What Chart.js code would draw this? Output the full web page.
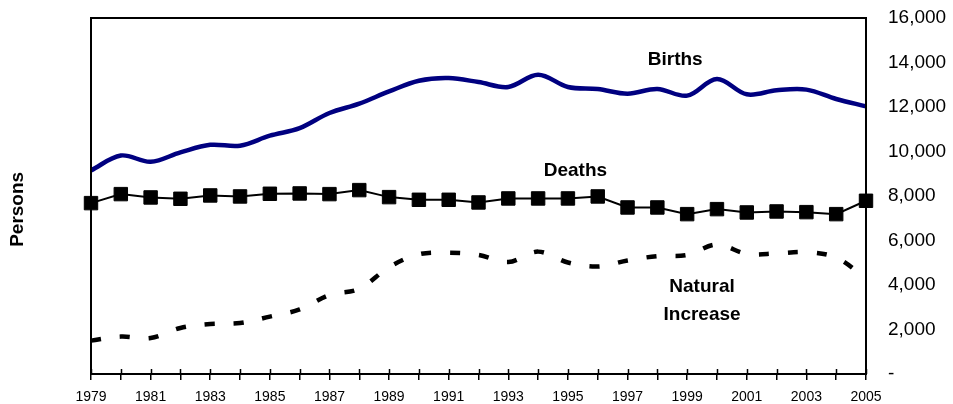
<!DOCTYPE html>
<html lang="en">
  <head>
    <meta charset="UTF-8" />
    <title>Births, Deaths and Natural Increase</title>
    <script src="https://cdn.jsdelivr.net/npm/chart.js@4.4.0/dist/chart.umd.min.js"></script>
    <style>
      html, body { margin: 0; padding: 0; background: #fff; }
      #wrap { width: 953px; height: 404px; }
    </style>
  </head>
  <body>
    <div id="wrap"><canvas id="myChart" width="953" height="404"></canvas></div>
    <script>
      const years = ['1979', '1980', '1981', '1982', '1983', '1984', '1985', '1986', '1987',
        '1988', '1989', '1990', '1991', '1992', '1993', '1994', '1995', '1996', '1997',
        '1998', '1999', '2000', '2001', '2002', '2003', '2004', '2005'];
      const births = [9150, 9820, 9540, 9960, 10300, 10260, 10710, 11050, 11730, 12150,
        12700, 13180, 13300, 13120, 12900, 13450, 12900, 12810, 12600, 12810,
        12510, 13260, 12570, 12750, 12780, 12360, 12030];
      const deaths = [7680, 8085, 7935, 7875, 8025, 7980, 8100, 8115, 8085, 8265,
        7950, 7830, 7830, 7710, 7890, 7890, 7890, 7980, 7485, 7485,
        7185, 7410, 7260, 7305, 7275, 7185, 7785];
      const naturalIncrease = [1500, 1680, 1620, 2070, 2250, 2290, 2580, 2900, 3550, 3830,
        4800, 5380, 5450, 5350, 5030, 5500, 5010, 4830, 5100, 5300,
        5350, 5820, 5400, 5420, 5480, 5230, 4300];
      const yTicks = [0, 2000, 4000, 6000, 8000, 10000, 12000, 14000, 16000];

      // text labels placed in data space: [text, x index, y value]
      const seriesLabels = [
        ['Births', 19.6, 14130],
        ['Deaths', 16.25, 9150],
        ['Natural', 20.5, 3900],
        ['Increase', 20.5, 2680]
      ];

      const FONT = "'Liberation Sans', Arial, sans-serif";

      const decorations = {
        id: 'decorations',
        afterDraw(chart) {
          const { ctx, chartArea: a, scales: { x, y } } = chart;
          ctx.save();
          // frame round the plot
          ctx.strokeStyle = '#000';
          ctx.lineWidth = 2;
          ctx.strokeRect(a.left, a.top, a.right - a.left, a.bottom - a.top);
          // tick marks poke into the plot a little too
          ctx.lineWidth = 1.5;
          ctx.beginPath();
          for (let i = 0; i < years.length; i++) {
            const px = Math.round(x.getPixelForValue(i)) + 0.5;
            ctx.moveTo(px, a.bottom - 5);
            ctx.lineTo(px, a.bottom);
          }
          ctx.stroke();
          // series names
          ctx.fillStyle = '#000';
          ctx.font = 'bold 19px ' + FONT;
          ctx.textAlign = 'center';
          ctx.textBaseline = 'middle';
          seriesLabels.forEach(([t, xi, yv]) => {
            ctx.fillText(t, x.getPixelForValue(xi), y.getPixelForValue(yv));
          });
          // axis title on the left
          ctx.translate(a.left - 73, y.getPixelForValue(7400));
          ctx.rotate(-Math.PI / 2);
          ctx.fillText('Persons', 0, 0);
          ctx.restore();
        }
      };

      const ctx = document.getElementById('myChart').getContext('2d');
      const myChart = new Chart(ctx, {
        type: 'line',
        data: {
          labels: years,
          datasets: [{
            label: 'Births',
            data: births,
            borderColor: '#000080',
            borderWidth: 4.5,
            tension: 0.35,
            pointRadius: 0,
            fill: false
          }, {
            label: 'Deaths',
            data: deaths,
            borderColor: '#000',
            borderWidth: 2,
            tension: 0,
            pointStyle: 'rect',
            pointRadius: 9.5,
            pointBorderWidth: 1,
            pointBackgroundColor: '#000',
            pointBorderColor: '#000',
            fill: false
          }, {
            label: 'Natural Increase',
            data: naturalIncrease,
            borderColor: '#000',
            borderWidth: 4.5,
            borderDash: [10, 19],
            borderCapStyle: 'butt',
            tension: 0.35,
            pointRadius: 0,
            fill: false
          }]
        },
        options: {
          responsive: false,
          animation: false,
          events: [],
          layout: { padding: { left: 91, top: 18, right: 0, bottom: 0 } },
          plugins: {
            legend: { display: false },
            tooltip: { enabled: false }
          },
          scales: {
            x: {
              offset: false,
              grid: { display: true, drawOnChartArea: false, drawTicks: true, tickLength: 6, color: '#000', lineWidth: 1.5 },
              border: { display: true, color: '#000', width: 2 },
              ticks: {
                autoSkip: false,
                maxRotation: 0,
                padding: 9,
                color: '#000',
                font: { family: FONT, size: 14 },
                callback: (v, i) => (i % 2 === 0 ? years[i] : '')
              },
              afterFit: (s) => { s.height = 30; s.paddingLeft = 0; s.paddingRight = 0; }
            },
            y: {
              position: 'right',
              min: yTicks[0],
              max: yTicks[yTicks.length - 1],
              afterBuildTicks: (s) => { s.ticks = yTicks.map((v) => ({ value: v })); },
              grid: { display: false, drawTicks: false },
              border: { display: true, color: '#000', width: 2 },
              ticks: {
                padding: 22,
                color: '#000',
                font: { family: FONT, size: 19 },
                callback: (v) => (v === 0 ? '-' : v.toLocaleString('en-US'))
              },
              afterFit: (s) => { s.width = 87; s.paddingTop = 0; s.paddingBottom = 0; }
            }
          }
        },
        plugins: [decorations]
      });
    </script>
  </body>
</html>
